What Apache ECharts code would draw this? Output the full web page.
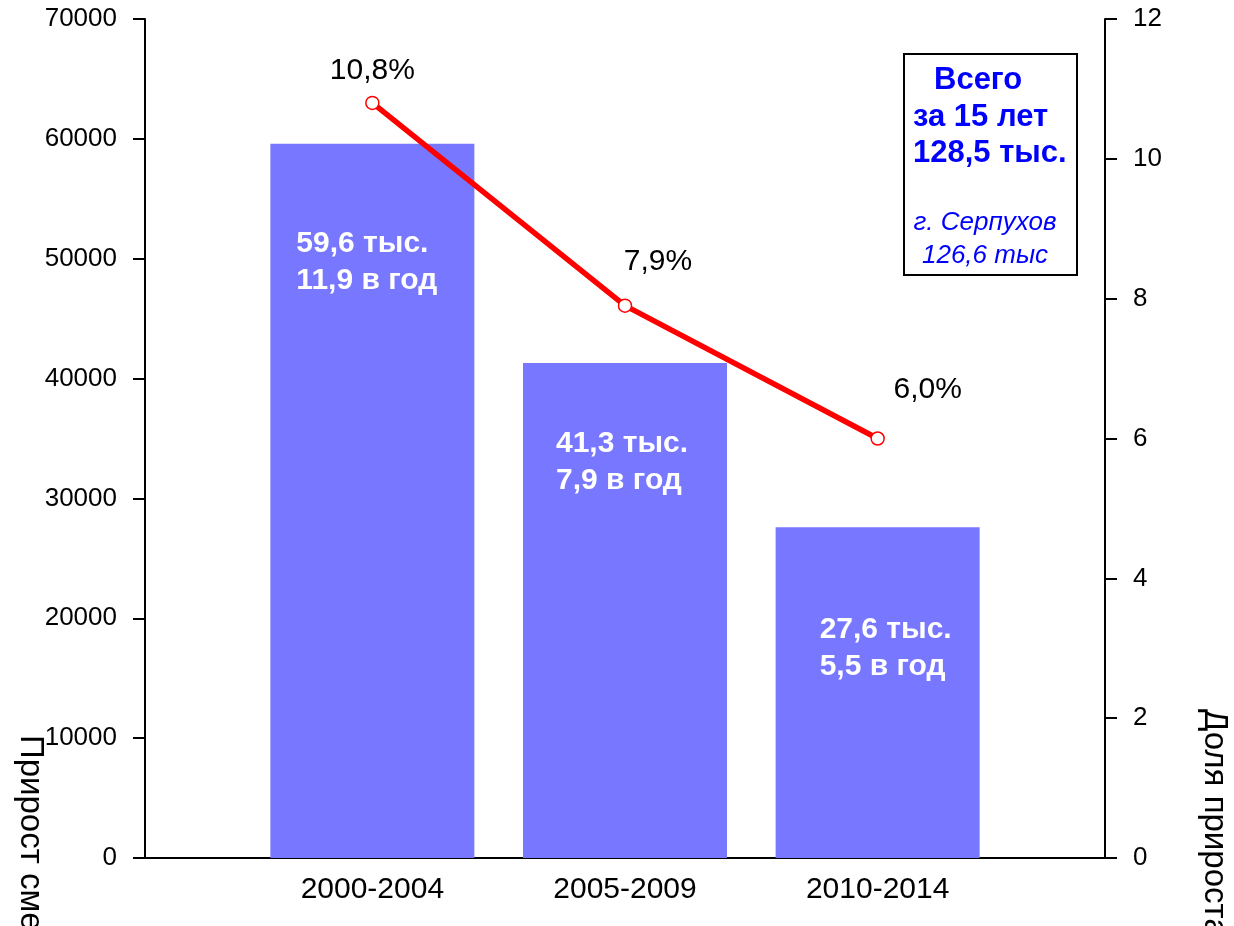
<!DOCTYPE html>
<html>
<head>
<meta charset="utf-8">
<script src="https://cdn.jsdelivr.net/npm/echarts@6/dist/echarts.min.js"></script>
<style>
html,body{margin:0;padding:0;background:#fff;}
#chart{width:1234px;height:926px;}
</style>
</head>
<body>
<div id="chart"></div>
<script>
// ---- data ----
const categories = ['2000-2004', '2005-2009', '2010-2014'];
const growthTotal = [59600, 41300, 27600];          // left axis, people
const growthPerYear = [11.9, 7.9, 5.5];              // thousand per year (label text)
const growthShare = [10.8, 7.9, 6.0];                // right axis, %
const leftAxisMax = 70000, leftAxisStep = 10000;
const rightAxisMax = 12, rightAxisStep = 2;
const leftTitle = 'Прирост смертности';
const rightTitle = 'Доля прироста, %';
const boxLines = ['Всего', 'за 15 лет', '128,5 тыс.'];
const boxNote = ['г. Серпухов', '126,6 тыс'];

// ---- layout / style (not data) ----
const FONT = '"Liberation Sans", Arial, sans-serif';
const barLabelPos = [[26, 82], [33, 62], [44, 84]];
const lineLabelOffset = [[0, -5], [33, -17], [50, -22]];

const comma = v => v.toFixed(1).replace('.', ',');

const chart = echarts.init(document.getElementById('chart'), null, {renderer: 'canvas'});

const yAxisCommon = {
  type: 'value',
  splitLine: {show: false},
  axisLine: {show: true, onZero: false, lineStyle: {color: '#000', width: 2}},
  axisTick: {show: true, inside: false, length: 12, lineStyle: {color: '#000', width: 2}},
  axisLabel: {color: '#000', fontFamily: FONT, fontSize: 26, margin: 28, formatter: v => String(v)}
};

const option = {
  backgroundColor: '#ffffff',
  animation: false,
  grid: {left: 145, right: 129, top: 19, bottom: 68, containLabel: false},
  xAxis: {
    type: 'value',
    min: -0.9, max: 2.9,
    splitLine: {show: false},
    axisLine: {show: true, onZero: false, lineStyle: {color: '#000', width: 2}},
    axisTick: {show: false},
    axisLabel: {
      customValues: [0, 1, 2],
      formatter: v => categories[Math.round(v)] || '',
      color: '#000', fontFamily: FONT, fontSize: 30, margin: 17
    }
  },
  yAxis: [
    Object.assign({}, yAxisCommon, {min: 0, max: leftAxisMax, interval: leftAxisStep, position: 'left'}),
    Object.assign({}, yAxisCommon, {min: 0, max: rightAxisMax, interval: rightAxisStep, position: 'right'})
  ],
  series: [{
    type: 'bar',
    yAxisIndex: 0,
    barWidth: 204,
    itemStyle: {color: '#7777FF'},
    data: growthTotal.map((v, i) => ({
      value: [i, v],
      label: {
        show: true,
        position: barLabelPos[i],
        align: 'left', verticalAlign: 'top',
        color: '#fff', fontFamily: FONT, fontSize: 30, fontWeight: 'bold', lineHeight: 37,
        formatter: () => comma(growthTotal[i] / 1000) + ' тыс.\n' + comma(growthPerYear[i]) + ' в год'
      }
    })),
    z: 2
  }, {
    type: 'line',
    yAxisIndex: 1,
    symbol: 'circle',
    symbolSize: 13,
    lineStyle: {color: '#FF0000', width: 5.5},
    itemStyle: {color: '#FFFFFF', borderColor: '#FF0000', borderWidth: 1.5},
    data: growthShare.map((v, i) => ({
      value: [i, v],
      label: {
        show: true, position: 'top', distance: 5,
        offset: lineLabelOffset[i],
        color: '#000', fontFamily: FONT, fontSize: 30,
        formatter: () => comma(growthShare[i]) + '%'
      }
    })),
    z: 3
  }],
  graphic: [
    {
      type: 'rect', shape: {x: 904, y: 54, width: 173, height: 221},
      style: {fill: '#fff', stroke: '#000', lineWidth: 2}, z: 10
    },
    {type: 'text', x: 934, y: 80, z: 11, style: {text: boxLines[0], fill: '#0000FF', font: 'bold 31px ' + FONT, textAlign: 'left', textVerticalAlign: 'middle'}},
    {type: 'text', x: 913, y: 117, z: 11, style: {text: boxLines[1], fill: '#0000FF', font: 'bold 31px ' + FONT, textAlign: 'left', textVerticalAlign: 'middle'}},
    {type: 'text', x: 913, y: 153, z: 11, style: {text: boxLines[2], fill: '#0000FF', font: 'bold 31px ' + FONT, textAlign: 'left', textVerticalAlign: 'middle'}},
    {type: 'text', x: 985, y: 223, z: 11, style: {text: boxNote[0], fill: '#0000FF', font: 'italic 26px ' + FONT, textAlign: 'center', textVerticalAlign: 'middle'}},
    {type: 'text', x: 985, y: 256, z: 11, style: {text: boxNote[1], fill: '#0000FF', font: 'italic 26px ' + FONT, textAlign: 'center', textVerticalAlign: 'middle'}},
    {type: 'text', x: 30, y: 735, rotation: -Math.PI / 2, z: 11,
      style: {text: leftTitle, fill: '#000', font: '33px ' + FONT, textAlign: 'left', textVerticalAlign: 'middle'}},
    {type: 'text', x: 1214, y: 709, rotation: -Math.PI / 2, z: 11,
      style: {text: rightTitle, fill: '#000', font: '33px ' + FONT, textAlign: 'left', textVerticalAlign: 'middle'}}
  ]
};
chart.setOption(option);
</script>
</body>
</html>
